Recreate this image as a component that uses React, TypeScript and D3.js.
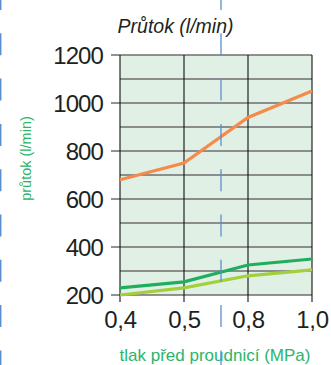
import React from "react";
import * as d3 from "d3";

const categories = ["0,4", "0,5", "0,8", "1,0"];
const seriesOrange = [680, 750, 940, 1050];
const seriesDarkGreen = [230, 255, 325, 350];
const seriesLightGreen = [200, 230, 280, 305];
const yTicks = [200, 400, 600, 800, 1000, 1200];
const yMinor = [300, 500, 700, 900, 1100];

export default function App() {
  const W = 331, H = 365;
  const left = 120, right = 312, top = 55, bottom = 295;
  const x = d3.scalePoint<string>().domain(categories).range([left, right]);
  const y = d3.scaleLinear().domain([200, 1200]).range([bottom, top]);
  const line = d3
    .line<number>()
    .x((_, i) => x(categories[i]) as number)
    .y((d) => y(d));
  const font = "'Liberation Sans', Arial, sans-serif";
  return (
    <svg width={W} height={H} style={{ position: "absolute", left: 0, top: 0 }}>
      <rect x={0} y={0} width={W} height={H} fill="#fff" />
      <rect x={left} y={top} width={right - left} height={bottom - top} fill="#e1f0e5" />
      {yMinor.map((v) => (
        <line key={"m" + v} x1={left} x2={right} y1={y(v)} y2={y(v)} stroke="#6e6e6e" strokeWidth={1.3} />
      ))}
      {yTicks.map((v) => (
        <line key={"t" + v} x1={left - 9} x2={right} y1={y(v)} y2={y(v)} stroke="#6e6e6e" strokeWidth={1.3} />
      ))}
      {categories.map((c) => (
        <line key={"v" + c} x1={x(c)} x2={x(c)} y1={top} y2={bottom + 7} stroke="#111" strokeWidth={1.1} />
      ))}
      <path d={line(seriesLightGreen) || ""} fill="none" stroke="#a3cf3c" strokeWidth={3.2} />
      <path d={line(seriesDarkGreen) || ""} fill="none" stroke="#1fae5e" strokeWidth={3.2} />
      <path d={line(seriesOrange) || ""} fill="none" stroke="#f58a4b" strokeWidth={3.2} />
      {yTicks.map((v) => (
        <text key={"yl" + v} x={103} y={y(v)} dy="0.36em" textAnchor="end" fontFamily={font} fontSize={24} letterSpacing={-0.9} fill="#231f20">
          {v}
        </text>
      ))}
      {categories.map((c) => (
        <text key={"xl" + c} x={(x(c) as number) + 0.5} y={327.5} textAnchor="middle" fontFamily={font} fontSize={24} letterSpacing={-0.3} fill="#231f20">
          {c}
        </text>
      ))}
      <text x={175.5} y={33} textAnchor="middle" fontFamily={font} fontSize={19.5} fontStyle="italic" fill="#231f20">
        Průtok (l/min)
      </text>
      <text transform="translate(31,158.5) rotate(-90)" textAnchor="middle" fontFamily={font} fontSize={14.5} fill="#2bb56a">
        průtok (l/min)
      </text>
      <text x={215} y={361} textAnchor="middle" fontFamily={font} fontSize={17} fill="#2bb56a">
        tlak před proudnicí (MPa)
      </text>
      <line x1={221} x2={221} y1={0} y2={H} stroke="#5b8fd0" strokeWidth={1.3} strokeDasharray="22 23.3" strokeDashoffset={12} />
      <line x1={0.7} x2={0.7} y1={0} y2={H} stroke="#5b8fd0" strokeWidth={1.5} strokeDasharray="22 23.3" strokeDashoffset={12} />
    </svg>
  );
}
